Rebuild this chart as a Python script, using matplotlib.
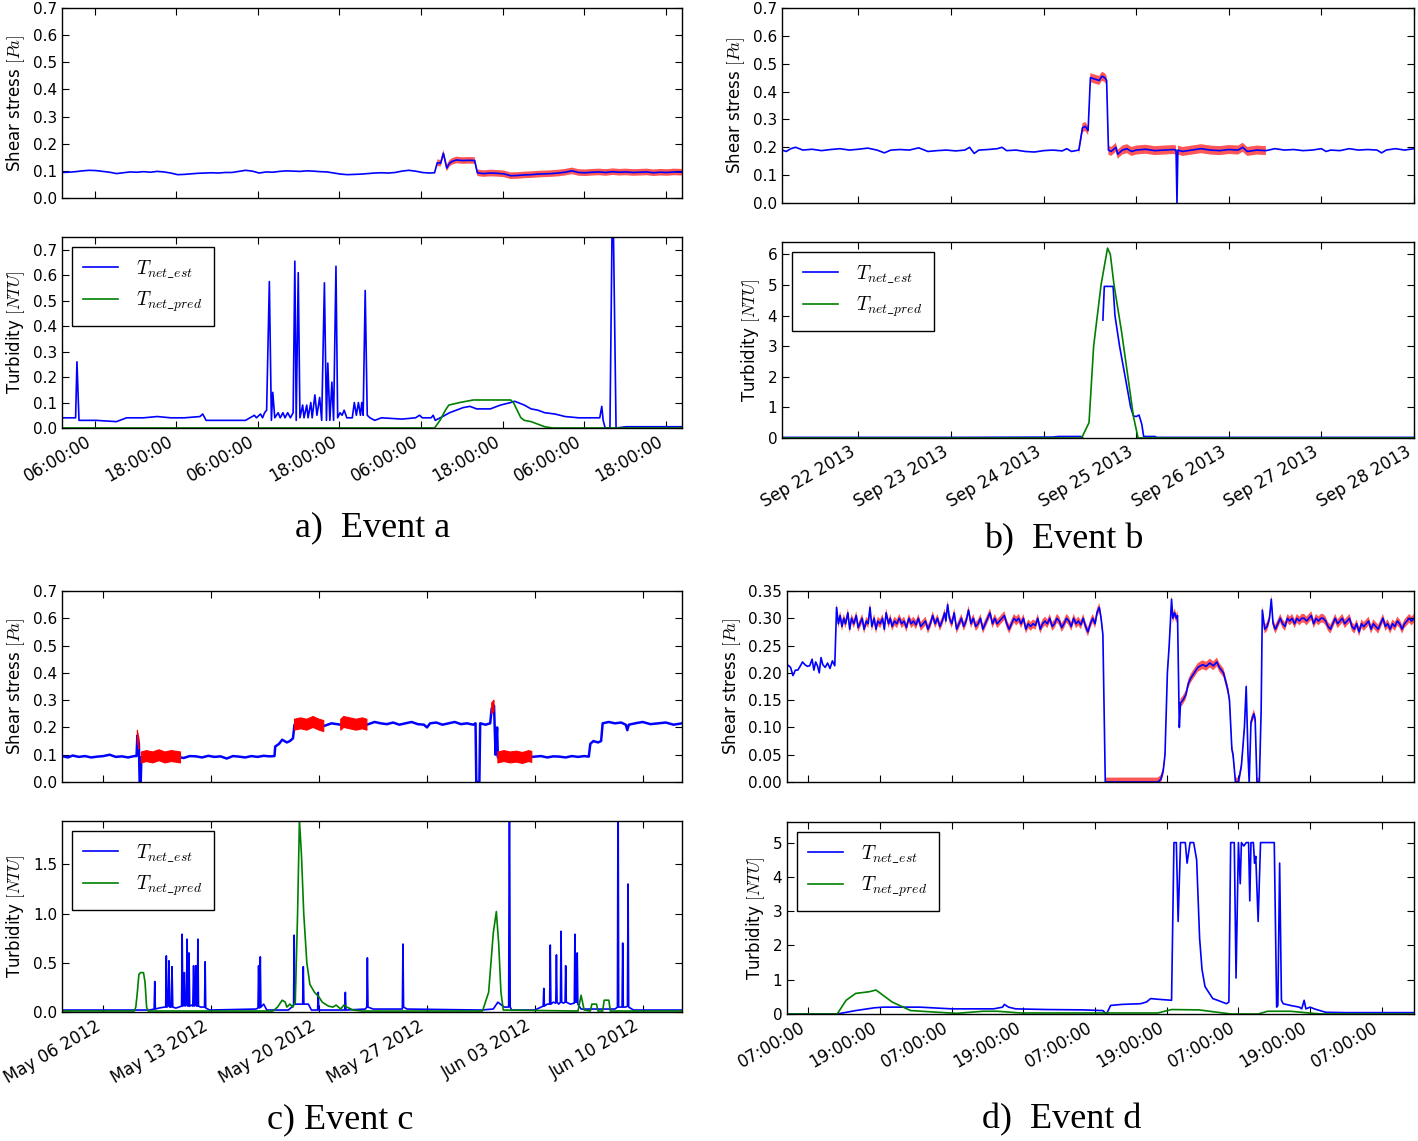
import numpy as np
import matplotlib
matplotlib.use("Agg")
import matplotlib.pyplot as plt
import matplotlib.dates as mdates
from matplotlib.ticker import MultipleLocator, FormatStrFormatter

plt.rcParams.update({
    "font.family": ["DejaVu Sans"],
    "mathtext.fontset": "cm",
    "xtick.direction": "in", "ytick.direction": "in",
    "xtick.top": True, "ytick.right": True,
    "xtick.major.size": 5, "ytick.major.size": 5,
    "axes.linewidth": 1.0,
    "xtick.labelsize": 12, "ytick.labelsize": 11,
    "hatch.linewidth": 1.0,
})

# ---------------- Event a (hours from 01:12) ----------------
A_BASE = "2013-01-14T01:12"
A_SPAN = 91.2
A_SHEAR = [(0,0.094),(1,0.095),(2,0.097),(3,0.100),(4,0.102),(5,0.101),(6,0.098),(7,0.095),(8,0.090),(9,0.093),
           (10,0.096),(11,0.095),(12,0.097),(13,0.095),(14,0.098),(15,0.096),(16,0.092),(17,0.086),(18,0.087),(19,0.089),
           (20,0.091),(21,0.092),(22,0.093),(23,0.092),(24,0.094),(25,0.094),(26,0.098),(27,0.102),(28,0.099),(29,0.092),
           (30,0.096),(31,0.095),(32,0.098),(33,0.100),(34,0.099),(35,0.098),(36,0.100),(37,0.099),(38,0.097),(39,0.096),
           (40,0.092),(41,0.088),(42,0.086),(43,0.087),(44,0.088),(45,0.090),(46,0.092),(47,0.093),(48,0.092),(49,0.094),
           (50,0.099),(51,0.102),(52,0.099),(53,0.094),(54,0.092),(54.8,0.093),(55.2,0.130),(55.7,0.128),(56.1,0.165),
           (56.6,0.110),(57.0,0.128),(57.4,0.135),(58,0.140),(59,0.138),(60,0.139),(60.7,0.138),(61.1,0.093),(62,0.090),
           (63,0.092),(64,0.091),(65,0.089),(66,0.082),(67,0.083),(68,0.085),(69,0.086),(70,0.088),(71,0.089),(72,0.090),
           (73,0.092),(74,0.095),(75,0.100),(76,0.094),(77,0.093),(78,0.095),(79,0.096),(80,0.094),(81,0.097),(82,0.095),
           (83,0.096),(84,0.094),(85,0.095),(86,0.096),(87,0.093),(88,0.095),(89,0.094),(90,0.096),(91.2,0.095)]
A_RED_FROM = 55.2
A_ERR = 0.012
A_EST = [(0,0.04),(1.5,0.04),(2.0,0.04),(2.2,0.26),(2.5,0.03),(5,0.03),(8,0.025),(9.5,0.04),(12,0.04),(14,0.045),
         (16,0.04),(18,0.04),(20.3,0.045),(20.7,0.055),(21.2,0.03),(24,0.03),(27,0.03),(28.3,0.05),(28.6,0.04),(29.2,0.055),
         (29.5,0.04),(29.8,0.06),(30.1,0.07),(30.5,0.575),(30.8,0.03),(31.0,0.14),(31.3,0.04),(31.8,0.06),(32.1,0.04),
         (32.5,0.06),(32.8,0.04),(33.2,0.06),(33.6,0.04),(34.0,0.06),(34.25,0.655),(34.45,0.03),(34.75,0.61),(35.0,0.04),
         (35.4,0.09),(35.6,0.04),(36.0,0.09),(36.2,0.04),(36.6,0.1),(36.8,0.04),(37.2,0.13),(37.5,0.05),(37.9,0.12),
         (38.2,0.03),(38.6,0.57),(38.9,0.03),(39.1,0.255),(39.4,0.03),(39.7,0.18),(39.95,0.03),(40.3,0.635),(40.55,0.04),
         (40.9,0.06),(41.2,0.05),(41.5,0.07),(41.9,0.04),(42.7,0.04),(43.0,0.1),(43.3,0.05),(43.6,0.1),(43.9,0.05),
         (44.1,0.1),(44.3,0.05),(44.6,0.54),(44.9,0.05),(45.3,0.04),(46,0.03),(47,0.04),(50,0.035),(52,0.04),(52.6,0.05),
         (53,0.04),(54.3,0.04),(54.6,0.05),(54.9,0.03),(56,0.045),(57,0.06),(59,0.08),(60,0.085),(61,0.075),(63,0.075),
         (64.5,0.09),(66,0.1),(66.6,0.105),(68,0.09),(69,0.075),(70,0.07),(71,0.06),(72.5,0.055),(74,0.045),(76,0.04),
         (78,0.04),(79.1,0.04),(79.4,0.085),(79.6,0.03),(79.9,0.0),(80.6,0.0),(81.0,1.0),(81.5,0.0),(83,0.005),(86,0.005),
         (91.2,0.005)]
A_PRED = [(0,0.0),(54.8,0.0),(55.6,0.03),(56.4,0.07),(56.9,0.09),(58.5,0.10),(60.5,0.11),(66.0,0.11),(66.4,0.1),
          (67.5,0.04),(68.0,0.03),(69,0.025),(70,0.015),(71,0.005),(72.2,0.0),(91.2,0.0)]

# ---------------- Event b (days from Sep 22 2013) ----------------
B_BASE = "2013-09-22T00:00"
B_XLIM = (-0.826, 6.0)
B_SHEAR = [(-0.826,0.19),(-0.78,0.185),(-0.73,0.195),(-0.68,0.2),(-0.6,0.19),(-0.5,0.193),(-0.4,0.188),(-0.3,0.192),
           (-0.2,0.195),(-0.1,0.19),(0.0,0.193),(0.1,0.197),(0.2,0.19),(0.28,0.18),(0.35,0.19),(0.45,0.192),(0.55,0.19),
           (0.65,0.198),(0.75,0.185),(0.85,0.188),(0.95,0.19),(1.05,0.187),(1.15,0.19),(1.2,0.2),(1.25,0.178),(1.3,0.19),
           (1.4,0.192),(1.5,0.195),(1.55,0.2),(1.6,0.188),(1.7,0.19),(1.8,0.185),(1.9,0.183),(2.0,0.188),(2.1,0.19),
           (2.2,0.187),(2.25,0.195),(2.3,0.185),(2.38,0.19),(2.42,0.27),(2.45,0.275),(2.48,0.26),(2.505,0.45),(2.55,0.445),
           (2.6,0.44),(2.63,0.455),(2.66,0.45),(2.68,0.44),(2.70,0.19),(2.73,0.185),(2.78,0.2),(2.8,0.175),(2.85,0.19),
           (2.9,0.195),(2.95,0.185),(3.0,0.19),(3.1,0.193),(3.2,0.188),(3.3,0.19),(3.4,0.192),(3.43,0.19),(3.44,0.0),
           (3.45,0.19),(3.5,0.185),(3.6,0.19),(3.7,0.195),(3.8,0.19),(3.9,0.188),(4.0,0.192),(4.1,0.19),(4.15,0.2),
           (4.2,0.185),(4.3,0.19),(4.4,0.188),(4.5,0.195),(4.6,0.19),(4.7,0.192),(4.8,0.188),(4.9,0.19),(5.0,0.195),
           (5.05,0.185),(5.1,0.19),(5.2,0.188),(5.3,0.195),(5.4,0.19),(5.5,0.192),(5.6,0.19),(5.65,0.18),(5.7,0.19),
           (5.8,0.195),(5.9,0.19),(6.0,0.195)]
B_RED = (2.38, 4.42)
B_ERR = 0.016
B_EST = [(-0.826,0.02),(1.0,0.02),(2.1,0.03),(2.16,0.05),(2.4,0.05),(2.42,0.02),(2.43,np.nan),(2.64,3.85),(2.655,4.95),
         (2.75,4.95),(2.77,4.0),(2.82,3.0),(2.88,2.0),(2.94,1.0),(2.97,0.72),(3.0,0.7),(3.03,0.75),(3.06,0.45),(3.08,0.05),
         (3.2,0.05),(3.22,0.02),(6.0,0.02)]
B_PRED = [(-0.826,0.0),(2.41,0.0),(2.49,0.5),(2.54,3.0),(2.62,5.0),(2.69,6.2),(2.72,6.0),(2.76,5.0),(2.84,3.5),
          (2.91,2.0),(2.97,0.7),(3.02,0.0),(6.0,0.0)]

# ---------------- Event c (days from May 06 2012) ----------------
C_BASE = "2012-05-06T00:00"
C_XLIM = (-2.69, 37.55)
C_SHEAR = [(-2.69,0.095),(-2.3,0.09),(-2.0,0.097),(-1.6,0.092),(-1.2,0.095),(-0.8,0.09),(-0.4,0.093),(0.0,0.095),
           (0.4,0.1),(0.8,0.092),(1.2,0.094),(1.6,0.09),(2.0,0.095),(2.15,0.095),(2.2,0.17),(2.3,0.14),(2.35,0.0),
           (2.42,0.0),(2.46,0.09),(2.8,0.095),(3.2,0.09),(3.6,0.098),(4.0,0.09),(4.4,0.095),(4.8,0.092),(5.0,0.09),
           (5.2,0.088),(5.6,0.095),(6.0,0.094),(6.4,0.09),(6.8,0.096),(7.2,0.092),(7.6,0.094),(8.0,0.086),(8.4,0.095),
           (8.8,0.093),(9.2,0.09),(9.6,0.095),(10.0,0.092),(10.4,0.096),(10.8,0.094),(11.1,0.095),(11.15,0.13),
           (11.4,0.14),(11.6,0.155),(11.9,0.145),(12.1,0.15),(12.3,0.16),(12.4,0.21),(12.8,0.215),(13.2,0.21),
           (13.6,0.22),(14.0,0.21),(14.3,0.205),(14.8,0.215),(15.4,0.21),(15.6,0.22),(16.0,0.215),(16.4,0.21),
           (16.8,0.215),(17.1,0.21),(17.6,0.22),(18.0,0.215),(18.4,0.212),(18.8,0.218),(19.2,0.21),(19.6,0.215),
           (20.0,0.22),(20.4,0.212),(20.8,0.21),(21.0,0.2),(21.2,0.215),(21.6,0.218),(22.0,0.21),(22.4,0.215),
           (22.8,0.22),(23.2,0.212),(23.6,0.215),(24.0,0.21),(24.15,0.215),(24.2,0.0),(24.4,0.0),(24.45,0.215),
           (24.8,0.21),(25.1,0.215),(25.2,0.27),(25.35,0.28),(25.45,0.1),(25.55,0.2),(25.6,0.09),(26.0,0.095),
           (26.4,0.09),(26.8,0.093),(27.2,0.088),(27.6,0.095),(27.8,0.092),(28.4,0.095),(28.8,0.09),(29.2,0.094),
           (29.6,0.093),(30.0,0.09),(30.4,0.095),(30.8,0.092),(31.2,0.095),(31.5,0.093),(31.6,0.14),(31.8,0.15),
           (32.1,0.145),(32.3,0.15),(32.4,0.215),(32.8,0.22),(33.2,0.215),(33.6,0.218),(33.9,0.21),(34.0,0.19),
           (34.1,0.21),(34.5,0.215),(35.0,0.22),(35.5,0.212),(36.0,0.215),(36.5,0.218),(37.0,0.21),(37.55,0.215)]
C_RED = [(2.2, 2.3), (2.46, 5.0), (12.4, 14.3), (15.4, 17.1), (25.2, 25.35), (25.6, 27.8)]
C_ERR = 0.02
C_EST = [(-2.69,0.02),(3.0,0.02),(3.29,0.03),(3.33,0.31),(3.37,0.03),(3.6,0.04),(3.95,0.05),(4.04,0.05),(4.08,0.57),
         (4.12,0.05),(4.2,0.06),(4.25,0.52),(4.3,0.05),(4.4,0.05),(4.45,0.46),(4.5,0.05),(4.7,0.04),(4.9,0.05),
         (5.07,0.06),(5.11,0.79),(5.15,0.06),(5.2,0.07),(5.25,0.4),(5.3,0.06),(5.38,0.07),(5.43,0.74),(5.48,0.06),
         (5.52,0.06),(5.55,0.6),(5.6,0.06),(5.7,0.07),(5.8,0.06),(5.85,0.47),(5.9,0.06),(5.95,0.07),(6.0,0.47),
         (6.05,0.06),(6.09,0.06),(6.13,0.74),(6.17,0.06),(6.3,0.05),(6.5,0.05),(6.56,0.05),(6.6,0.51),(6.64,0.04),
         (6.9,0.02),(9.9,0.03),(10.03,0.04),(10.07,0.47),(10.11,0.05),(10.14,0.04),(10.18,0.56),(10.22,0.05),
         (10.4,0.08),(10.6,0.02),(12.0,0.02),(12.3,0.06),(12.34,0.08),(12.38,0.78),(12.42,0.08),(12.6,0.08),
         (12.93,0.08),(12.97,0.46),(13.01,0.08),(13.3,0.08),(13.5,0.02),(13.9,0.02),(13.94,0.2),(13.98,0.02),
         (14.3,0.02),(15.66,0.02),(15.7,0.2),(15.74,0.02),(17.0,0.03),(17.09,0.05),(17.13,0.55),(17.17,0.05),
         (17.5,0.03),(19.4,0.03),(19.44,0.69),(19.48,0.05),(19.7,0.03),(24.5,0.02),(25.3,0.03),(25.6,0.1),
         (26.0,0.05),(26.3,0.05),(26.35,2.5),(26.4,0.05),(26.5,0.02),(28.0,0.02),(28.54,0.06),(28.58,0.24),
         (28.62,0.06),(28.8,0.08),(28.96,0.08),(29.0,0.68),(29.04,0.08),(29.2,0.1),(29.36,0.09),(29.4,0.58),
         (29.44,0.1),(29.55,0.08),(29.66,0.1),(29.7,0.82),(29.74,0.1),(29.85,0.09),(29.96,0.1),(30.0,0.47),
         (30.04,0.1),(30.3,0.08),(30.56,0.09),(30.6,0.79),(30.64,0.1),(30.71,0.1),(30.75,0.6),(30.79,0.08),
         (31.0,0.03),(33.2,0.03),(33.36,0.05),(33.4,2.5),(33.44,0.05),(33.66,0.05),(33.7,0.7),(33.74,0.05),
         (33.9,0.05),(34.01,0.06),(34.05,1.3),(34.09,0.05),(34.4,0.02),(36.0,0.02),(37.55,0.02)]
C_PRED = [(-2.69,0.01),(2.0,0.01),(2.1,0.05),(2.2,0.2),(2.3,0.38),(2.4,0.4),(2.6,0.4),(2.7,0.3),(2.8,0.05),
          (2.9,0.01),(11.0,0.01),(11.3,0.05),(11.6,0.12),(11.8,0.1),(11.9,0.05),(12.1,0.08),(12.3,0.05),
          (12.45,0.1),(12.6,1.0),(12.72,1.95),(12.85,1.6),(13.0,1.0),(13.2,0.5),(13.4,0.28),(13.7,0.2),(14.0,0.15),
          (14.2,0.1),(14.6,0.06),(14.9,0.05),(15.1,0.07),(15.4,0.03),(15.6,0.07),(15.8,0.05),(16.2,0.02),
          (16.8,0.01),(24.6,0.01),(25.0,0.2),(25.3,0.8),(25.5,1.02),(25.65,0.7),(25.8,0.2),(25.95,0.02),
          (30.8,0.01),(31.0,0.17),(31.2,0.02),(31.6,0.01),(31.7,0.08),(32.0,0.08),(32.1,0.01),(32.4,0.01),
          (32.5,0.12),(32.8,0.12),(32.9,0.01),(37.55,0.01)]

# ---------------- Event d (hours from 07:00) ----------------
D_BASE = "2013-02-01T07:00"
D_XLIM = (-3.6, 101.4)
D_SHEAR = [(-3.6,0.215),(-3.3,0.213),(-3.0,0.21),(-2.6,0.195),(-2.2,0.205),(-1.8,0.205),(-1.4,0.212),(-1.0,0.22),
           (-0.6,0.215),(-0.2,0.212),(0.2,0.213),(0.6,0.225),(0.9,0.205),(1.2,0.22),(1.5,0.213),(1.8,0.2),(2.1,0.228),
           (2.4,0.215),(2.8,0.21),(3.2,0.218),(3.6,0.208),(4.0,0.222),(4.4,0.213),(4.7,0.32),(5.0,0.29),(5.3,0.305),
           (5.6,0.285),(5.9,0.3),(6.2,0.29),(6.6,0.31),(6.9,0.28),(7.2,0.3),(7.6,0.29),(8.0,0.305),(8.3,0.283),
           (8.6,0.29),(9.0,0.3),(9.3,0.28),(9.7,0.295),(10.0,0.29),(10.3,0.32),(10.6,0.285),(11.0,0.3),(11.3,0.28),
           (11.6,0.295),(12.0,0.29),(12.4,0.3),(12.7,0.28),(13.0,0.31),(13.4,0.29),(13.7,0.3),(14.0,0.285),
           (14.4,0.295),(14.8,0.29),(15.2,0.3),(15.6,0.29),(16.0,0.295),(16.4,0.283),(16.8,0.3),(17.2,0.29),
           (17.6,0.295),(18.0,0.288),(18.4,0.3),(18.8,0.285),(19.2,0.29),(19.6,0.295),(20.0,0.28),(20.4,0.29),
           (20.8,0.305),(21.2,0.29),(21.6,0.3),(22.0,0.285),(22.4,0.295),(22.8,0.31),(23.0,0.295),(23.3,0.325),
           (23.6,0.3),(24.0,0.29),(24.4,0.31),(24.8,0.28),(25.2,0.29),(25.6,0.3),(26.0,0.285),(26.4,0.295),
           (26.8,0.315),(27.2,0.29),(27.6,0.3),(28.0,0.285),(28.4,0.29),(28.8,0.3),(29.2,0.28),(29.6,0.29),
           (30.0,0.3),(30.4,0.31),(30.8,0.29),(31.2,0.3),(31.6,0.29),(32.0,0.295),(32.4,0.3),(32.8,0.305),
           (33.2,0.29),(33.6,0.28),(34.0,0.29),(34.4,0.3),(34.8,0.295),(35.2,0.3),(35.6,0.29),(36.0,0.3),
           (36.4,0.28),(36.8,0.29),(37.2,0.285),(37.6,0.29),(38.0,0.287),(38.4,0.3),(38.8,0.28),(39.2,0.29),
           (39.6,0.295),(40.0,0.29),(40.4,0.3),(40.8,0.285),(41.2,0.29),(41.6,0.3),(42.0,0.295),(42.4,0.283),
           (42.8,0.29),(43.2,0.3),(43.6,0.295),(44.0,0.285),(44.4,0.3),(44.8,0.29),(45.2,0.295),(45.6,0.288),
           (46.0,0.3),(46.4,0.285),(46.8,0.275),(47.2,0.29),(47.6,0.3),(48.0,0.29),(48.3,0.31),(48.7,0.32),
           (49.0,0.3),(49.3,0.27),(49.7,0.0),(52,0.0),(55,0.0),(58.5,0.0),(59.0,0.005),(59.4,0.02),(59.7,0.05),
           (60.1,0.2),(60.4,0.25),(60.8,0.335),(61.0,0.3),(61.3,0.31),(61.6,0.3),(61.8,0.305),(62.1,0.1),
           (62.3,0.145),(62.7,0.15),(63.2,0.16),(63.6,0.18),(64.0,0.19),(64.6,0.2),(65.2,0.21),(66.0,0.215),
           (66.6,0.212),(67.2,0.218),(67.8,0.213),(68.4,0.22),(68.8,0.21),(69.5,0.2),(70.2,0.17),(70.5,0.15),
           (70.9,0.06),(71.1,0.05),(71.5,0.0),(72.0,0.0),(72.5,0.03),(73.0,0.1),(73.3,0.175),(73.6,0.05),
           (73.8,0.0),(74.1,0.11),(74.6,0.125),(74.8,0.115),(75.1,0.0),(75.5,0.0),(75.8,0.13),(76.0,0.315),
           (76.4,0.28),(76.8,0.285),(77.2,0.3),(77.5,0.335),(77.8,0.29),(78.2,0.28),(78.6,0.29),(79.0,0.3),
           (79.4,0.29),(79.8,0.285),(80.2,0.3),(80.6,0.295),(81.0,0.3),(81.4,0.29),(81.8,0.3),(82.2,0.295),
           (82.6,0.3),(83.0,0.3),(83.4,0.295),(83.8,0.3),(84.2,0.305),(84.6,0.29),(85.0,0.3),(85.4,0.295),
           (85.8,0.3),(86.2,0.3),(86.6,0.295),(87.0,0.285),(87.4,0.28),(87.8,0.29),(88.2,0.3),(88.6,0.29),
           (89.0,0.295),(89.4,0.3),(89.8,0.29),(90.2,0.295),(90.6,0.3),(91.0,0.285),(91.4,0.28),(91.8,0.29),
           (92.2,0.275),(92.6,0.29),(93.0,0.285),(93.4,0.29),(93.8,0.295),(94.2,0.28),(94.6,0.29),(95.0,0.285),
           (95.4,0.28),(95.8,0.29),(96.2,0.3),(96.6,0.285),(97.0,0.29),(97.4,0.28),(97.8,0.29),(98.2,0.285),
           (98.6,0.295),(99.0,0.29),(99.4,0.28),(99.8,0.29),(100.2,0.295),(100.6,0.3),(101.0,0.295),(101.4,0.3)]
D_RED_FROM = 4.7
D_ERR = 0.008
D_EST = [(-3.6,0.0),(4.8,0.0),(7.9,0.1),(11.0,0.18),(12.5,0.2),(18.6,0.2),(24.0,0.15),(31.0,0.15),(32.5,0.2),
         (32.8,0.28),(33.5,0.2),(34.7,0.15),(40.0,0.13),(46.0,0.12),(49.3,0.1),(49.9,0.0),(50.6,0.25),(52.5,0.28),
         (55.6,0.3),(56.6,0.35),(57.3,0.45),(58.5,0.43),(60.8,0.4),(61.2,5.0),(61.6,5.0),(61.9,2.7),(62.3,5.0),
         (63.1,5.0),(63.4,4.4),(63.9,5.0),(64.5,5.0),(65.0,4.5),(65.5,2.2),(65.9,1.3),(66.4,0.8),(67.7,0.45),
         (68.5,0.4),(70.0,0.3),(70.4,0.35),(70.7,5.0),(71.3,5.0),(71.6,1.05),(72.0,5.0),(72.3,3.8),(72.5,5.0),
         (72.9,4.9),(73.3,5.0),(73.7,5.0),(73.9,3.3),(74.1,5.0),(74.5,5.0),(74.7,4.4),(74.9,4.6),(75.3,2.7),
         (75.7,5.0),(78.0,5.0),(78.4,0.2),(78.6,0.25),(78.9,4.4),(79.2,0.4),(79.5,0.3),(80.7,0.25),(82.2,0.2),
         (82.6,0.15),(83.0,0.4),(83.3,0.15),(84.0,0.2),(84.7,0.15),(86.6,0.05),(90.0,0.04),(101.4,0.04)]
D_PRED = [(-3.6,0.0),(4.8,0.0),(6.3,0.4),(7.9,0.6),(10.2,0.65),(11.3,0.7),(14.0,0.35),(17.1,0.1),(21.7,0.05),
          (24.8,0.02),(29.3,0.08),(31.6,0.08),(35.5,0.03),(58.5,0.03),(60.8,0.13),(65.4,0.12),(68.5,0.05),
          (70.8,0.0),(75.3,0.0),(76.9,0.08),(80.7,0.08),(83.8,0.03),(86.0,0.0),(101.4,0.0)]

CAPTIONS = ["a)  Event a", "b)  Event b", "c) Event c", "d)  Event d"]


def to_time(base, offsets, unit_s):
    off = np.round(np.asarray(offsets, dtype=float) * unit_s).astype("int64")
    return np.datetime64(base, "s") + off.astype("timedelta64[s]")


def split(pairs, base, unit_s):
    arr = np.array(pairs, dtype=float)
    return arr[:, 0], to_time(base, arr[:, 0], unit_s), arr[:, 1]


W, H = 1418, 1141
fig = plt.figure(figsize=(W / 100, H / 100), dpi=100)


def box(l, r, t, b):
    return [l / W, 1 - b / H, (r - l) / W, (b - t) / H]


panels = [
    dict(base=A_BASE, unit=3600, xlim=(0, A_SPAN), shear=A_SHEAR, est=A_EST, pred=A_PRED,
         top=box(62, 682, 8, 198), bot=box(62, 682, 237, 428), sylim=(0, 0.7), sstep=0.1, sfmt="%.1f",
         tylim=(0, 0.75), tstep=0.1, tfmt="%.1f",
         loc=mdates.HourLocator(byhour=[6, 18]), fmt="%H:%M:%S",
         cap=(373, 528)),
    dict(base=B_BASE, unit=86400, xlim=B_XLIM, shear=B_SHEAR, est=B_EST, pred=B_PRED,
         top=box(782, 1414, 8, 203), bot=box(782, 1414, 242, 438), sylim=(0, 0.7), sstep=0.1, sfmt="%.1f",
         tylim=(0, 6.4), tstep=1, tfmt="%d",
         loc=mdates.DayLocator(), fmt="%b %d %Y", cap=(1064, 540)),
    dict(base=C_BASE, unit=86400, xlim=C_XLIM, shear=C_SHEAR, est=C_EST, pred=C_PRED,
         top=box(62, 682, 591, 782), bot=box(62, 682, 821, 1012), sylim=(0, 0.7), sstep=0.1, sfmt="%.1f",
         tylim=(0, 1.94), tstep=0.5, tfmt="%.1f",
         loc=mdates.WeekdayLocator(byweekday=mdates.SU), fmt="%b %d %Y", cap=(340, 1120)),
    dict(base=D_BASE, unit=3600, xlim=D_XLIM, shear=D_SHEAR, est=D_EST, pred=D_PRED,
         top=box(787, 1414, 591, 782), bot=box(787, 1414, 822, 1014), sylim=(0, 0.35), sstep=0.05, sfmt="%.2f",
         tylim=(0, 5.6), tstep=1, tfmt="%d",
         loc=mdates.HourLocator(byhour=[7, 19]), fmt="%H:%M:%S", cap=(1062, 1120)),
]

for i, p in enumerate(panels):
    ax1 = fig.add_axes(p["top"])
    ax2 = fig.add_axes(p["bot"], sharex=ax1)
    off, t, y = split(p["shear"], p["base"], p["unit"])
    lw = 1.8 if i == 2 else 1.2
    ax1.plot(t, y, color="b", lw=lw, zorder=2)
    if i == 0:
        mask = off >= A_RED_FROM
        err = A_ERR
    elif i == 1:
        mask = (off >= B_RED[0]) & (off <= B_RED[1]) & (y > 0.05)
        err = B_ERR
    elif i == 2:
        mask = np.zeros_like(off, dtype=bool)
        for a, b in C_RED:
            mask |= (off >= a) & (off <= b)
        err = C_ERR
    else:
        mask = off >= D_RED_FROM
        err = D_ERR
    if i == 2:
        ax1.fill_between(t, y - err, y + err, where=mask, color="red", lw=0.8, edgecolor="red", zorder=3)
    else:
        ax1.fill_between(t, y - err, y + err, where=mask, facecolor=(1, 0.3, 0.3, 0.35),
                         edgecolor=(1, 0, 0, 0.55), hatch="|" * 22, lw=0, zorder=1)
    ax1.set_ylim(*p["sylim"])
    ax1.yaxis.set_major_locator(MultipleLocator(p["sstep"]))
    ax1.yaxis.set_major_formatter(FormatStrFormatter(p["sfmt"]))
    ax1.set_ylabel(r"Shear stress $[Pa]$", fontsize=12)
    plt.setp(ax1.get_xticklabels(), visible=False)

    _, te, ye = split(p["est"], p["base"], p["unit"])
    _, tp, yp = split(p["pred"], p["base"], p["unit"])
    ax2.plot(te, ye, color="b", lw=1.2, label=r"$T_{net\_est}$")
    ax2.plot(tp, yp, color="g", lw=1.2, label=r"$T_{net\_pred}$")
    ax2.set_ylim(*p["tylim"])
    ax2.yaxis.set_major_locator(MultipleLocator(p["tstep"]))
    ax2.yaxis.set_major_formatter(FormatStrFormatter(p["tfmt"]))
    ax2.set_ylabel(r"Turbidity $[NTU]$", fontsize=12)
    leg = ax2.legend(loc="upper left", fontsize=14, frameon=True, fancybox=False,
                     edgecolor="black", framealpha=1, handlelength=1.8, handletextpad=0.9,
                     borderpad=0.6, labelspacing=0.5, borderaxespad=0.5)
    leg.get_frame().set_linewidth(1.0)

    ax1.set_xlim(to_time(p["base"], [p["xlim"][0]], p["unit"])[0],
                 to_time(p["base"], [p["xlim"][1]], p["unit"])[0])
    ax2.xaxis.set_major_locator(p["loc"])
    ax2.xaxis.set_major_formatter(mdates.DateFormatter(p["fmt"]))
    for lab in ax2.get_xticklabels():
        lab.set_rotation(30)
        lab.set_ha("right")
    fig.text(p["cap"][0] / W, 1 - p["cap"][1] / H, CAPTIONS[i], ha="center", va="center",
             family="Liberation Serif", fontsize=26)

fig.savefig("out.png", dpi=100)
